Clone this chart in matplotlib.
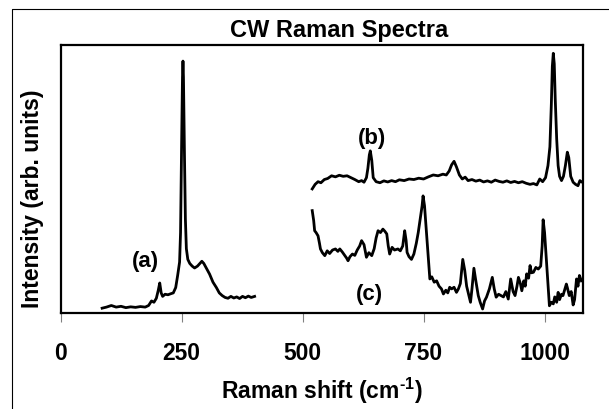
import matplotlib.pyplot as plt
from matplotlib.lines import Line2D

plt.rcParams['font.family'] = ['Liberation Sans', 'DejaVu Sans']
plt.rcParams['font.weight'] = 'bold'
plt.rcParams['mathtext.fontset'] = 'custom'
plt.rcParams['mathtext.rm'] = 'Liberation Sans:bold'
plt.rcParams['mathtext.bf'] = 'Liberation Sans:bold'
plt.rcParams['mathtext.it'] = 'Liberation Sans:bold'

# spectrum (a)
a_x = [86, 95, 105, 115, 125, 135, 145, 155, 165, 175, 182, 188, 193, 198, 202, 205,
       208, 211, 216, 222, 228, 233, 238, 242, 246, 248, 250, 252, 253, 254, 256, 258,
       260, 263, 267, 272, 277, 283, 288, 292, 296, 302, 308, 315, 322, 328, 334, 340,
       346, 352, 358, 364, 370, 376, 382, 388, 394, 401]
a_y = [0.018, 0.022, 0.028, 0.022, 0.025, 0.020, 0.023, 0.021, 0.024, 0.022, 0.028, 0.045,
       0.040, 0.055, 0.085, 0.112, 0.075, 0.062, 0.070, 0.068, 0.072, 0.075, 0.095, 0.140,
       0.190, 0.30, 0.60, 0.88, 0.94, 0.88, 0.60, 0.35, 0.24, 0.200, 0.185, 0.175, 0.168,
       0.175, 0.185, 0.193, 0.185, 0.165, 0.145, 0.115, 0.095, 0.075, 0.065, 0.058, 0.055,
       0.062, 0.056, 0.060, 0.054, 0.062, 0.057, 0.063, 0.058, 0.062]

# spectrum (b)
b_x = [520, 526, 532, 538, 545, 552, 560, 568, 576, 584, 592, 600, 608, 616, 622, 627,
       632, 635, 638, 640, 643, 646, 652, 660, 668, 676, 684, 692, 700, 710, 720, 730,
       740, 750, 760, 770, 780, 790, 797, 803, 808, 813, 818, 824, 830, 836, 842, 850,
       858, 866, 874, 882, 890, 898, 906, 914, 922, 930, 938, 946, 954, 962, 970, 977,
       984, 990, 996, 1002, 1007, 1011, 1014, 1016, 1018, 1020, 1022, 1025, 1028, 1031,
       1035, 1039, 1043, 1047, 1050, 1054, 1059, 1064, 1069, 1073, 1076]
b_y = [0.463, 0.480, 0.490, 0.486, 0.498, 0.502, 0.512, 0.508, 0.514, 0.510, 0.512, 0.505,
       0.498, 0.490, 0.494, 0.488, 0.505, 0.540, 0.590, 0.605, 0.570, 0.505, 0.490, 0.486,
       0.493, 0.489, 0.494, 0.490, 0.497, 0.494, 0.500, 0.498, 0.503, 0.500, 0.508, 0.515,
       0.512, 0.518, 0.515, 0.530, 0.553, 0.566, 0.545, 0.515, 0.500, 0.507, 0.494, 0.498,
       0.492, 0.496, 0.489, 0.493, 0.488, 0.496, 0.491, 0.488, 0.493, 0.487, 0.491, 0.486,
       0.490, 0.484, 0.480, 0.483, 0.478, 0.500, 0.490, 0.505, 0.550, 0.62, 0.78, 0.92,
       0.969, 0.93, 0.80, 0.65, 0.55, 0.510, 0.494, 0.510, 0.550, 0.600, 0.580, 0.510,
       0.488, 0.480, 0.475, 0.494, 0.490]

# spectrum (c)
c_x = [520, 523, 525, 528, 532, 535, 537, 541, 546, 551, 556, 562, 568, 573, 577, 582,
       587, 591, 594, 598, 603, 608, 613, 618, 622, 627, 632, 637, 643, 648, 652, 656,
       661, 666, 670, 674, 677, 680, 685, 690, 697, 702, 707, 711, 714, 716, 720, 725,
       730, 735, 739, 743, 747, 749, 752, 756, 760, 763, 767, 772, 777, 782, 787, 791,
       796, 800, 804, 808, 813, 818, 822, 826, 831, 835, 839, 843, 847, 850, 854, 858,
       863, 867, 872, 876, 880, 886, 892, 896, 900, 905, 910, 915, 920, 925, 930, 935,
       939, 943, 946, 950, 953, 957, 960, 963, 967, 970, 973, 977, 982, 987, 992, 995,
       997, 1000, 1004, 1007, 1010, 1014, 1018, 1021, 1025, 1028, 1031, 1035, 1038, 1042,
       1045, 1047, 1051, 1055, 1059, 1062, 1066, 1069, 1072, 1076]
c_y = [0.382, 0.345, 0.307, 0.300, 0.288, 0.260, 0.239, 0.225, 0.214, 0.232, 0.222, 0.235,
       0.239, 0.230, 0.239, 0.228, 0.215, 0.205, 0.195, 0.210, 0.220, 0.215, 0.235, 0.250,
       0.270, 0.255, 0.208, 0.225, 0.214, 0.240, 0.280, 0.307, 0.300, 0.313, 0.305, 0.295,
       0.251, 0.220, 0.245, 0.235, 0.239, 0.232, 0.250, 0.307, 0.270, 0.226, 0.210, 0.200,
       0.220, 0.260, 0.300, 0.350, 0.400, 0.437, 0.400, 0.300, 0.200, 0.127, 0.135, 0.115,
       0.120, 0.100, 0.090, 0.071, 0.085, 0.075, 0.096, 0.090, 0.096, 0.077, 0.090, 0.110,
       0.200, 0.160, 0.100, 0.070, 0.040, 0.090, 0.167, 0.120, 0.065, 0.040, 0.015, 0.045,
       0.059, 0.090, 0.133, 0.090, 0.059, 0.070, 0.065, 0.060, 0.080, 0.052, 0.127, 0.080,
       0.065, 0.100, 0.133, 0.110, 0.083, 0.120, 0.100, 0.146, 0.130, 0.177, 0.150, 0.152,
       0.170, 0.164, 0.175, 0.250, 0.348, 0.300, 0.189, 0.110, 0.027, 0.040, 0.034, 0.060,
       0.040, 0.077, 0.050, 0.070, 0.065, 0.090, 0.108, 0.095, 0.065, 0.080, 0.030, 0.050,
       0.127, 0.100, 0.140, 0.120]

fig = plt.figure(figsize=(6.09, 4.10), dpi=100)
ax = fig.add_axes([60.5 / 609, 96 / 410, 522.8 / 609, 268 / 410])

for xs, ys in [(a_x, a_y), (b_x, b_y), (c_x, c_y)]:
    ax.plot(xs, ys, color='black', lw=2.0)

ax.text(175, 0.195, '(a)', fontsize=16, ha='center', va='center')
ax.text(643, 0.655, '(b)', fontsize=16, ha='center', va='center')
ax.text(639, 0.071, '(c)', fontsize=16, ha='center', va='center')

ax.set_xlim(0, 1080)
ax.set_ylim(0, 1)
ax.set_xticks([0, 250, 500, 750, 1000])
ax.set_yticks([])
ax.tick_params(axis='x', direction='out', length=6.5, width=0.8, color='#808080',
               pad=14, labelsize=16.5)
for s in ax.spines.values():
    s.set_linewidth(1.6)

fig.text(339 / 609, 1 - 31 / 410, 'CW Raman Spectra', fontsize=17, ha='center', va='center')
fig.text(321.5 / 609, 1 - 391 / 410, 'Raman shift (cm$^{\\text{-1}}$)', fontsize=16.5,
         ha='center', va='center')
fig.text(33 / 609, 1 - 199 / 410, 'Intensity (arb. units)', fontsize=16.5,
         ha='center', va='center', rotation=90)

# outer frame (left and top edges only are visible)
fig.add_artist(Line2D([12 / 609, 12 / 609, 1], [0, 1 - 10 / 410, 1 - 10 / 410],
                      transform=fig.transFigure, color='black', lw=0.8))

fig.savefig('out.png', dpi=100)
